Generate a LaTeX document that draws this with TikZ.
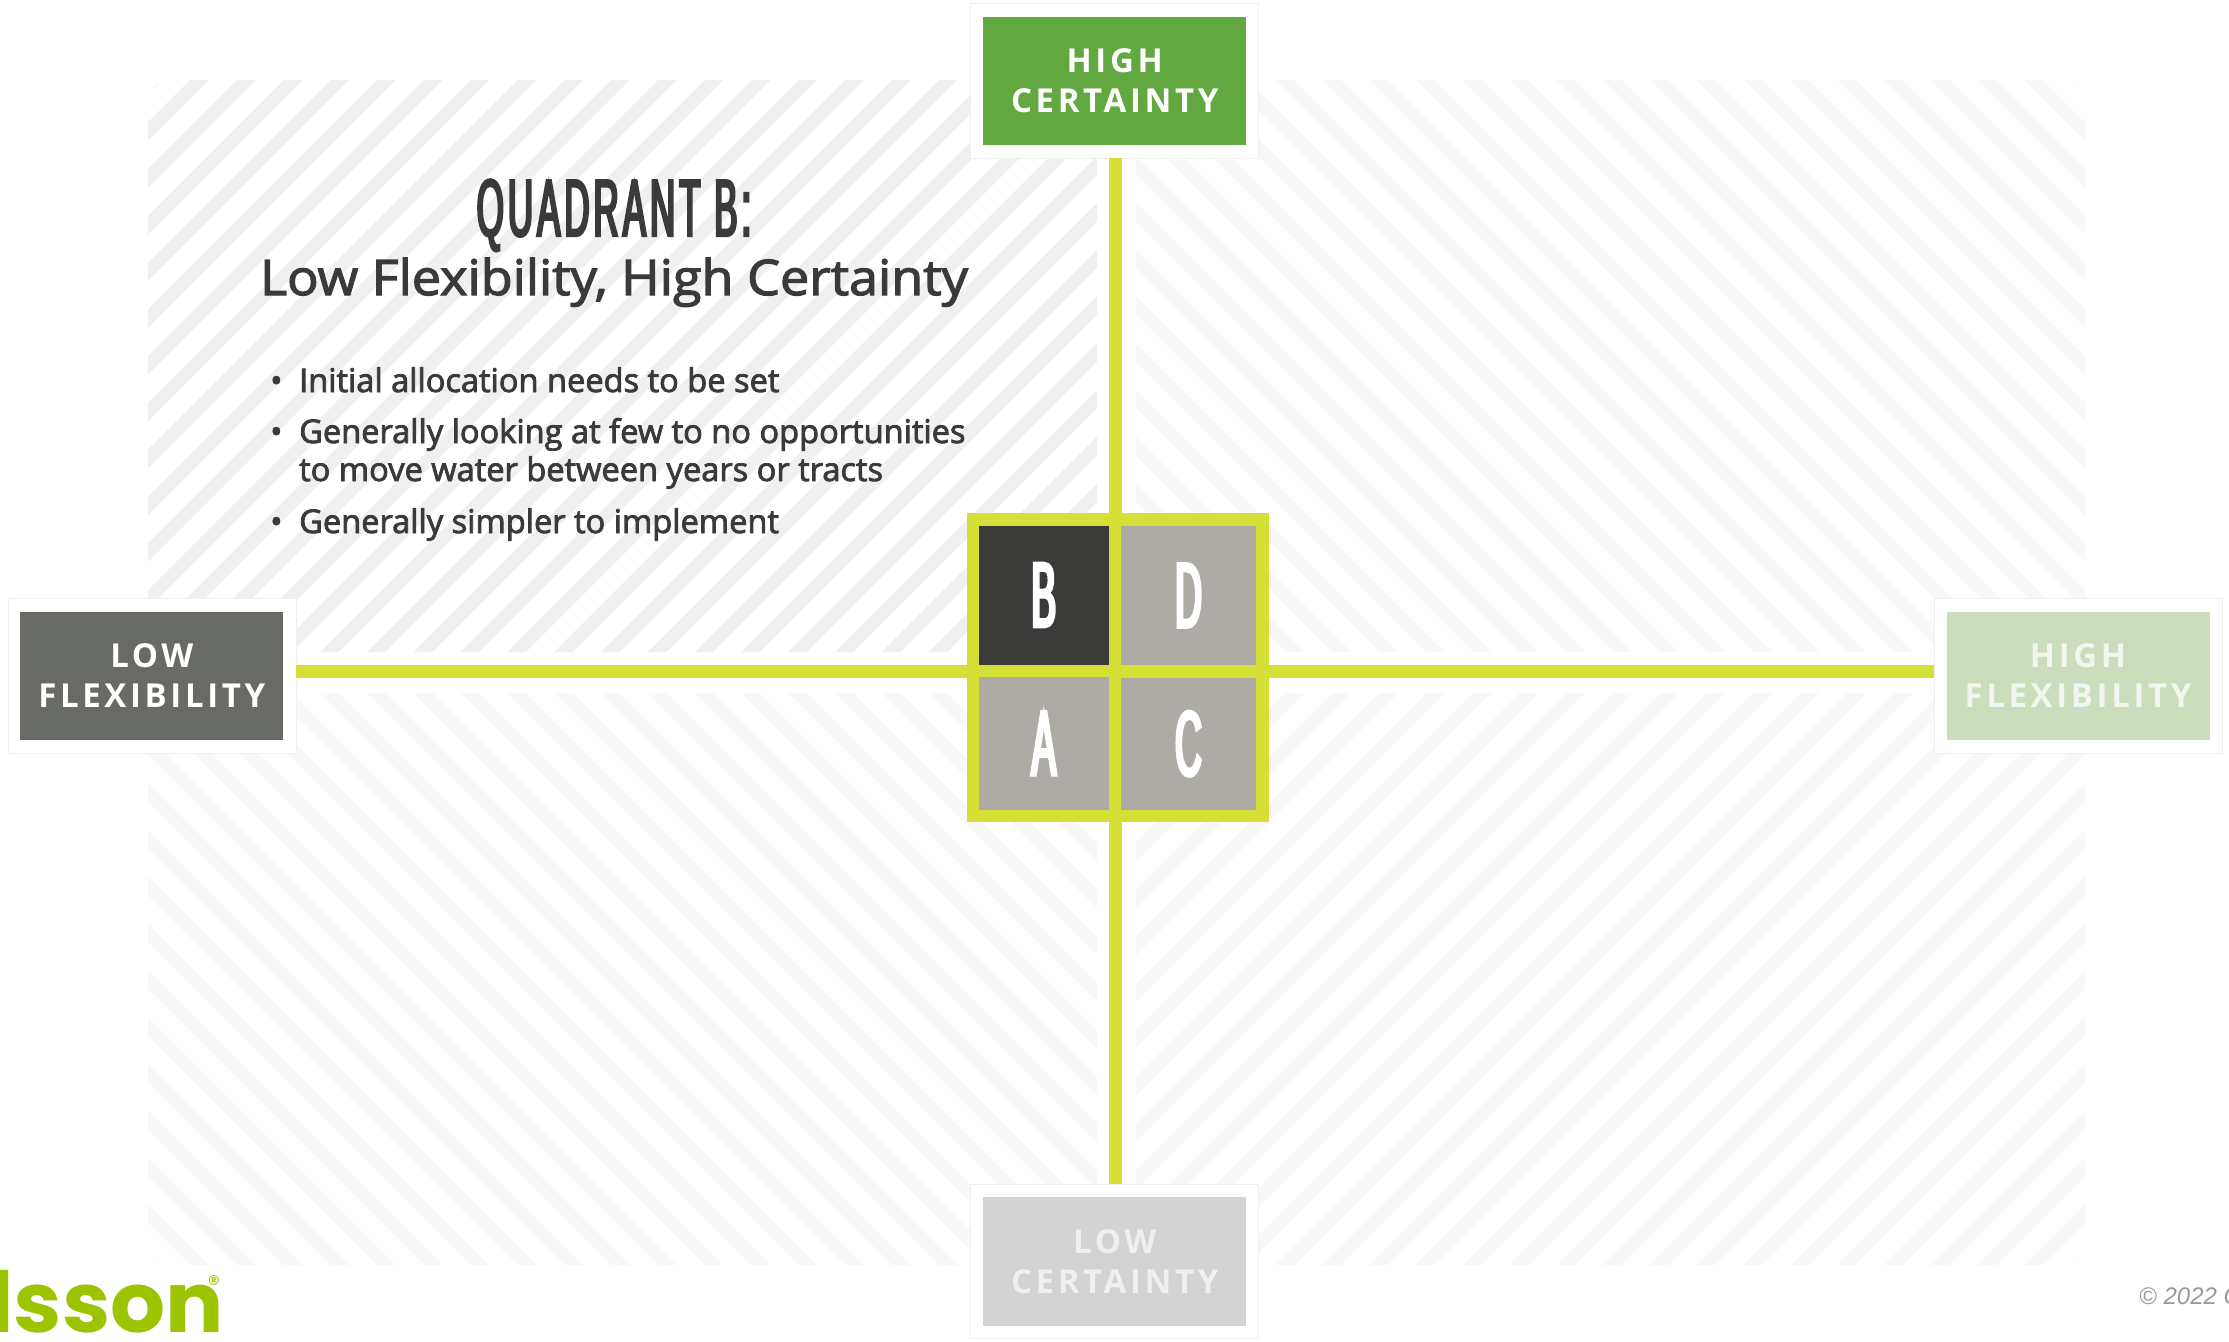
\documentclass[tikz,border=0pt]{standalone}
\usepackage{fontspec}
\usepackage{tikz}
\setmainfont{Open Sans}
\newfontfamily\gothicfont[FakeStretch=0.43,FakeBold=3,LetterSpace=5]{Liberation Sans}
\newfontfamily\cellfont[FakeStretch=0.40,FakeBold=3.5]{Liberation Sans}
\newfontfamily\tagfont[LetterSpace=11]{Open Sans}
\newfontfamily\bodyfont[FakeBold=2.5]{Open Sans}
\newfontfamily\headfont[FakeBold=2.5,FakeStretch=1.065]{Open Sans}
\newfontfamily\notefont{Liberation Sans}
\newfontfamily\logofont[FakeStretch=1.03]{Poppins}
\definecolor{axisgreen}{HTML}{D5E037}
\definecolor{inkdark}{HTML}{3A3B38}
\definecolor{cellgrey}{HTML}{AEAAA6}
\definecolor{logogreen}{HTML}{9CC400}
\tikzset{
    wrapbox/.style={fill=white, draw=black!6, line width=.6pt, minimum width=288pt, minimum height=154.5pt, inner sep=0pt},
    tagbox/.style={align=center, minimum width=263pt, minimum height=128.4pt, inner sep=0pt, font=\tagfont\bfseries\fontsize{33}{40}\selectfont},
    cellbox/.style={text=white, inner sep=0pt, font=\cellfont\fontsize{92}{92}\selectfont},
    bodytext/.style={text=inkdark, anchor=base west, inner sep=0pt, align=left, font=\bodyfont\fontsize{32.6}{38}\selectfont}
}
\begin{document}
\begin{tikzpicture}[x=1pt, y=-1pt]
            \useasboundingbox (0,0) rectangle (2229,1341);
            % Hatched quadrants
            \foreach \sx/\sy/\shade in {1/1/F0F0F0, -1/1/F8F8F8, 1/-1/F8F8F8, -1/-1/F8F8F8} {
                \definecolor{hatchgrey}{HTML}{\shade}
                \begin{scope}[shift={(1116.5,672.5)}, xscale=\sx, yscale=\sy]
                    \clip (-19.5,-20.5) -- (-968.5,-20.5) -- (-968.5,-542.5) .. controls (-968.5,-592.5) .. (-918.5,-592.5) -- (-19.5,-592.5) -- cycle;
                    \foreach \k in {-3,...,31} {
                        \draw[hatchgrey, line width=13.1pt] (-870.25+46.8*\k+20,-612.5) -- ++(-640,640);
                    }
                \end{scope}
            }
            % Axis tags
            \foreach \name/\px/\py/\tint/\ink/\label in {top/1114.7/80.8/61A840/FFFFFF/HIGH\\CERTAINTY, left/151.8/675.7/686A66/FFFFFF/LOW\\FLEXIBILITY, right/2078/675.7/CBDDBA/F2F6EF/HIGH\\FLEXIBILITY, bottom/1114.7/1261.5/D3D3D3/EFEFEF/LOW\\CERTAINTY} {
                \definecolor{tagtint}{HTML}{\tint}
                \definecolor{taginkc}{HTML}{\ink}
                \node[wrapbox] (Wrap-\name) at (\px,\py) {};
                \node[tagbox, fill=tagtint, text=taginkc] (Tag-\name) at (Wrap-\name) {\label};
            }
            % Axes
            \coordinate (Hub) at (1115,671);
            \draw[axisgreen, line width=13pt] (Wrap-top.south -| Hub) -- (Wrap-bottom.north -| Hub);
            \draw[axisgreen, line width=13pt] (Wrap-left.east |- Hub) -- (Wrap-right.west |- Hub);
            % Centre grid
            \node[fill=axisgreen, minimum width=302pt, minimum height=309pt, inner sep=0pt] (Frame) at (1118,667.5) {};
            \foreach \name/\px/\py/\w/\h/\tint in {B/1043.75/595/129.5/139/inkdark, D/1188.5/595.5/135/139/cellgrey, A/1043.75/743.25/129.5/132.5/cellgrey, C/1188.5/743.75/135/131.5/cellgrey} {
                \node[cellbox, fill=\tint, minimum width=\w pt, minimum height=\h pt] (Cell-\name) at (\px,\py) {\name};
            }
            % Title and bullets
            \node[anchor=base, inner sep=0pt, text=inkdark, font=\gothicfont\fontsize{81}{81}\selectfont] (Title) at (614,236) {QUADRANT B:};
            \node[anchor=base, inner sep=0pt, text=inkdark, font=\headfont\fontsize{49}{49}\selectfont] (Subtitle) at (614,295) {Low Flexibility, High Certainty};
            \foreach \i/\by/\ty/\label in {1/392/392/Initial allocation needs to be set, 2/443/481/Generally looking at few to no opportunities\\to move water between years or tracts, 3/533/533/Generally simpler to implement} {
                \node[bodytext] (Bullet-\i) at (270,\by) {•};
                \node[bodytext] (Item-\i) at (299,\ty) {\label};
            }
            % Logo and note
            \node[anchor=base west, inner sep=0pt, text=logogreen, font=\logofont\bfseries\fontsize{84}{84}\selectfont] (Logo) at (-12,1332) {lsson};
            \node[inner sep=0pt, text=logogreen, font=\logofont\fontsize{24}{24}\selectfont] (Logomark) at (214,1284) {®};
            \node[anchor=base west, inner sep=0pt, text=black!40, font=\notefont\itshape\fontsize{24}{24}\selectfont] (Note) at (2139,1304) {© 2022 O};
\end{tikzpicture}
\end{document}
